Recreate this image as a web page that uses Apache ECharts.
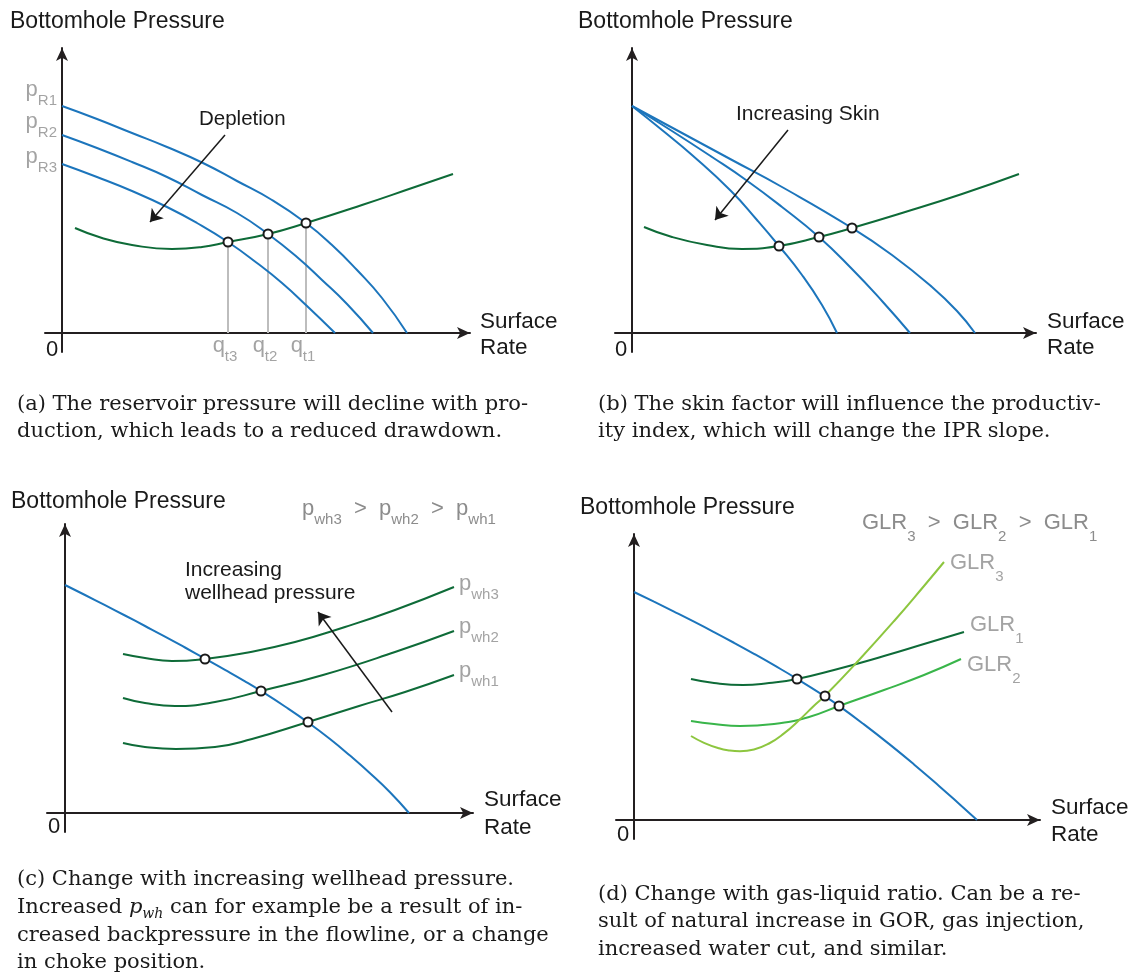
<!DOCTYPE html>
<html><head><meta charset="utf-8">
<script src="https://cdn.jsdelivr.net/npm/echarts@6/dist/echarts.min.js"></script>
<style>html,body{margin:0;padding:0;background:#fff}#c{width:1133px;height:980px}</style>
</head><body><div id="c"></div>
<script>
// ---------- DATA (schematic units: 1 unit ~ 1 px from each panel's origin) ----------
// Panel (a) depletion
const aIPR1 = [[0,227],[35,214],[70,200],[105,186],[141,170],[175,152],[210,133],[244,110],[270,88],[295,63],[320,35],[345,0]];
const aIPR2 = [[0,198],[35,185],[70,171],[105,156],[140,138],[175,120],[206,99],[235,76],[260,53],[285,29],[311,0]];
const aIPR3 = [[0,169],[35,156],[70,142],[105,126],[135,110],[166,91],[195,70],[220,50],[245,27],[273,0]];
const aTPR  = [[13,105],[40,95],[70,88],[110,84],[140,86],[166,91],[206,99],[244,110],[300,128],[350,145],[391,159]];
const aOp   = [[166,91],[206,99],[244,110]];
const aQSub = ['t3','t2','t1'];
const aPSub = ['R1','R2','R3'];
const aArrow = [[163,198],[88,111]];
// Panel (b) skin
const bIPR1 = [[0,227],[30,203],[60,178],[99,142],[125,113],[147,87],[170,58],[190,28],[205,0]];
const bIPR2 = [[0,227],[40,202],[80,176],[114,153],[150,126],[187,96],[220,64],[250,32],[278,0]];
const bIPR3 = [[0,227],[50,200],[100,173],[150,146],[220,105],[260,78],[300,46],[325,22],[343,0]];
const bTPR  = [[12,106],[40,96],[75,88],[110,84],[147,87],[187,96],[220,105],[270,120],[330,139],[387,159]];
const bOp   = [[147,87],[187,96],[220,105]];
const bArrow = [[156,203],[83,113]];
// Panel (c) wellhead pressure
const cIPR  = [[0,228],[20,218],[40,207.8],[60,197.5],[80,187],[100,176.4],[120,165.5],[140,154.4],[160,143.2],[180,131.7],[196,122],[220,106.5],[243,90.6],[265,74],[285,57.4],[305,39.8],[325,20.8],[344,0]];
const cTPR3 = [[58,159],[80,155],[107,152],[140,154],[180,160],[230,171],[280,186],[330,203],[389,226]];
const cTPR2 = [[58,115],[80,110],[110,107],[150,111],[196,122],[258,138],[330,161],[389,182]];
const cTPR1 = [[58,70],[80,66],[111,64],[150,66],[187,74],[243,91],[294,107],[340,121],[389,138]];
const cOp   = [[140,154],[196,122],[243,91]];
const cSub  = ['wh3','wh2','wh1'];
const cArrow = [[327,101],[253,201]];
// Panel (d) gas-liquid ratio
const dIPR  = [[0,228],[20,218.3],[40,208.4],[60,198.3],[80,187.9],[100,177.2],[120,166.2],[140,154.8],[163,141.2],[191,123.6],[205,114.1],[230,95.6],[255,76.1],[280,55.6],[305,34.1],[325,16.3],[343,0]];
const dGLR1 = [[57,141],[80,137],[109,135],[135,137],[163,141],[200,150],[250,164],[290,176],[330,188]];
const dGLR2 = [[57,99],[80,96],[106,94],[140,96],[175,103],[205,114],[250,130],[290,145],[327,161]];
const dGLR3 = [[57,84],[70,77.2],[85,71.7],[95,69.6],[106,68.8],[120,70.5],[135,76.5],[150,86.6],[165,99.7],[180,114.2],[191,124.2],[225,160],[261,200],[290,234],[310,258]];
const dOp   = [[163,141],[191,124],[205,114]];
const dSub  = ['3','1','2'];

// ---------- STYLE ----------
const SANS = '"Liberation Sans", Arial, Helvetica, sans-serif';
const SERIF = '"DejaVu Serif", "Liberation Serif", serif';
const BLUE = '#1c75bc', DKGREEN = '#0e6b38', MDGREEN = '#39b54a', LTGREEN = '#8dc63f';
const GRAY = '#8c8c8c', AXIS = '#231f20', DROP = '#bdbdbd', INK = '#1a1a1a';

const grids = [
  {left:45,  top:48,  width:425, height:304},
  {left:615, top:48,  width:421, height:304},
  {left:47,  top:524, width:426, height:308},
  {left:616, top:534, width:424, height:305}
];
const ranges = [[-17,408,-19,285],[-17,404,-19,285],[-18,408,-19,289],[-18,406,-19,286]];

function axLine(){ return {show:true,onZero:true,symbol:['none','arrow'],symbolSize:[9,13],lineStyle:{color:AXIS,width:2}}; }
const xAxis = ranges.map((r,i)=>({type:'value',gridIndex:i,min:r[0],max:r[1],axisLine:axLine(),axisTick:{show:false},axisLabel:{show:false},splitLine:{show:false}}));
const yAxis = ranges.map((r,i)=>({type:'value',gridIndex:i,min:r[2],max:r[3],axisLine:axLine(),axisTick:{show:false},axisLabel:{show:false},splitLine:{show:false}}));

function curve(i,data,color,z){ return {type:'line',xAxisIndex:i,yAxisIndex:i,data:data,smooth:0.5,showSymbol:false,symbol:'none',lineStyle:{color:color,width:2},silent:true,z:z||3}; }
function points(i,data){ return {type:'scatter',xAxisIndex:i,yAxisIndex:i,data:data,symbol:'circle',symbolSize:9,itemStyle:{color:'#fff',borderColor:INK,borderWidth:2,opacity:1},z:6,silent:true}; }
function arrow(i,coords){ return {type:'lines',coordinateSystem:'cartesian2d',xAxisIndex:i,yAxisIndex:i,data:[{coords:coords}],symbol:['none','arrow'],symbolSize:12,lineStyle:{color:INK,width:1.5,opacity:1,curveness:0},z:5,silent:true}; }
function drop(i,p){ return {type:'line',xAxisIndex:i,yAxisIndex:i,data:[p,[p[0],0]],showSymbol:false,symbol:'none',lineStyle:{color:DROP,width:2},silent:true,z:2}; }

// label rich styles (series labels use "color")
const richP = {
  m:{fontFamily:SANS,fontSize:22,color:GRAY,lineHeight:36},
  s:{fontFamily:SANS,fontSize:15,color:GRAY,lineHeight:15,verticalAlign:'bottom'}
};
const richG = {
  m:{fontFamily:SANS,fontSize:22,color:GRAY,lineHeight:42},
  s:{fontFamily:SANS,fontSize:15,color:GRAY,lineHeight:15,verticalAlign:'bottom'}
};
// graphic rich styles (zrender uses "fill")
function toFill(r){ const o={}; Object.keys(r).forEach(k=>{o[k]=Object.assign({},r[k],{fill:r[k].color});}); return o; }
const gRichP = toFill(Object.assign({},richP,{o:{fontFamily:SANS,fontSize:22,color:GRAY,lineHeight:36}}));
const gRichG = toFill(Object.assign({},richG,{o:{fontFamily:SANS,fontSize:22,color:GRAY,lineHeight:42}}));

function labels(i,pts,texts,position,distance,offsets,rich){
  return {type:'scatter',xAxisIndex:i,yAxisIndex:i,symbolSize:0,silent:true,z:7,
    label:{show:true},
    data:pts.map((p,k)=>({value:p,label:{show:true,formatter:texts[k],position:position,distance:distance,offset:offsets[k],rich:rich}}))};
}
const last = a => a[a.length-1];

const series = [
  // (a)
  drop(0,aOp[0]), drop(0,aOp[1]), drop(0,aOp[2]),
  curve(0,aIPR1,BLUE), curve(0,aIPR2,BLUE), curve(0,aIPR3,BLUE), curve(0,aTPR,DKGREEN,4),
  points(0,aOp), arrow(0,aArrow),
  labels(0,[aIPR1[0],aIPR2[0],aIPR3[0]],aPSub.map(s=>'{m|p}{s|'+s+'}'),'left',5,[[0,-16],[0,-13],[0,-7]],richP),
  labels(0,aOp.map(p=>[p[0],0]),aQSub.map(s=>'{m|q}{s|'+s+'}'),'bottom',0,[[-3,-5],[-3,-5],[-3,-5]],richP),
  // (b)
  curve(1,bIPR1,BLUE), curve(1,bIPR2,BLUE), curve(1,bIPR3,BLUE), curve(1,bTPR,DKGREEN,4),
  points(1,bOp), arrow(1,bArrow),
  // (c)
  curve(2,cIPR,BLUE), curve(2,cTPR3,DKGREEN,4), curve(2,cTPR2,DKGREEN,4), curve(2,cTPR1,DKGREEN,4),
  points(2,cOp), arrow(2,cArrow),
  labels(2,[last(cTPR3),last(cTPR2),last(cTPR1)],cSub.map(s=>'{m|p}{s|'+s+'}'),'right',5,[[0,-3],[0,-4],[0,-4]],richP),
  // (d)
  curve(3,dIPR,BLUE), curve(3,dGLR1,DKGREEN,4), curve(3,dGLR2,MDGREEN,4), curve(3,dGLR3,LTGREEN,4),
  points(3,dOp),
  labels(3,[last(dGLR3),last(dGLR1),last(dGLR2)],dSub.map(s=>'{m|GLR}{s|'+s+'}'),'right',6,[[0,1],[0,-7],[0,6]],richG)
];

// ---------- TEXT ----------
function t(x,y,text,size,color,family){
  return {type:'text',x:x,y:y,silent:true,style:{text:text,fontSize:size,fill:color||INK,fontFamily:family||SANS,verticalAlign:'middle',align:'left'}};
}
const titles = [[10,22],[578,22],[11,502],[580,508]];
const zeros = [[46,350],[615,350],[48,827],[617,835]];
const surf = [[480,322,348],[1047,322,348],[484,800,828],[1051,808,835]];
const graphics = [];
titles.forEach(p=>graphics.push(t(p[0],p[1],'Bottomhole Pressure',23)));
zeros.forEach(p=>graphics.push(t(p[0],p[1],'0',22)));
surf.forEach(p=>{graphics.push(t(p[0],p[1],'Surface',22.5)); graphics.push(t(p[0],p[2],'Rate',22.5));});
graphics.push(t(199,119,'Depletion',20.5));
graphics.push(t(736,114,'Increasing Skin',21));
graphics.push(t(185,570,'Increasing',21));
graphics.push(t(185,593,'wellhead pressure',21));
graphics.push({type:'text',x:302,y:509,silent:true,style:{text:'{m|p}{s|wh3}{o|  >  }{m|p}{s|wh2}{o|  >  }{m|p}{s|wh1}',verticalAlign:'middle',align:'left',rich:gRichP}});
graphics.push({type:'text',x:862,y:523,silent:true,style:{text:'{m|GLR}{s|3}{o|  >  }{m|GLR}{s|2}{o|  >  }{m|GLR}{s|1}',verticalAlign:'middle',align:'left',rich:gRichG}});

const CAP = 21;
const capStyle = {r:{fontFamily:SERIF,fontSize:CAP,fill:INK,lineHeight:26},
  i:{fontFamily:SERIF,fontSize:CAP,fontStyle:'italic',fill:INK,lineHeight:26},
  is:{fontFamily:SERIF,fontSize:14,fontStyle:'italic',fill:INK,lineHeight:12,verticalAlign:'bottom'}};
const captions = [
  [17,405,'(a) The reservoir pressure will decline with pro-'],
  [17,432,'duction, which leads to a reduced drawdown.'],
  [598,405,'(b) The skin factor will influence the productiv-'],
  [598,432,'ity index, which will change the IPR slope.'],
  [17,880,'(c) Change with increasing wellhead pressure.'],
  [17,936,'creased backpressure in the flowline, or a change'],
  [17,963,'in choke position.'],
  [598,895,'(d) Change with gas-liquid ratio. Can be a re-'],
  [598,922,'sult of natural increase in GOR, gas injection,'],
  [598,950,'increased water cut, and similar.']
];
captions.forEach(c=>graphics.push(t(c[0],c[1],c[2],CAP,INK,SERIF)));
graphics.push({type:'text',x:17,y:908,silent:true,style:{text:'{r|Increased }{i|p}{is|wh}{r| can for example be a result of in-}',verticalAlign:'middle',align:'left',rich:capStyle}});

const chart = echarts.init(document.getElementById('c'),null,{renderer:'canvas'});
chart.setOption({
  animation:false,
  backgroundColor:'#fff',
  grid:grids.map(g=>Object.assign({containLabel:false,outerBoundsMode:'none'},g)),
  xAxis:xAxis, yAxis:yAxis,
  series:series,
  graphic:{elements:graphics}
});
</script></body></html>
